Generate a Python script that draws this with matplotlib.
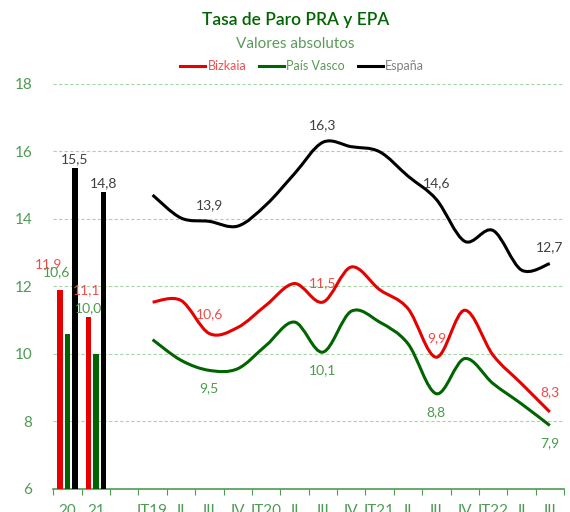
import numpy as np
import matplotlib
matplotlib.use("Agg")
from matplotlib import pyplot as plt
from matplotlib.path import Path
from matplotlib.patches import PathPatch
from matplotlib.lines import Line2D

plt.rcParams['font.family'] = ['Lato', 'DejaVu Sans']

# Categories on the x axis: two annual bars, a gap, then quarters
categories = ['20', '21', '', 'IT19', 'II', 'III', 'IV', 'IT20', 'II', 'III', 'IV',
              'IT21', 'II', 'III', 'IV', 'IT22', 'II', 'III']

# Annual averages (bars)
annual_bizkaia = [11.9, 11.1]
annual_pv = [10.6, 10.0]
annual_espana = [15.5, 14.8]

# Quarterly values (lines), IT19 .. III T22
q_bizkaia = [11.53, 11.58, 10.60, 10.78, 11.44, 12.08, 11.53, 12.57, 11.90, 11.34,
             9.90, 11.29, 9.96, 9.12, 8.28]
q_pv = [10.42, 9.81, 9.51, 9.56, 10.25, 10.94, 10.05, 11.26, 10.94, 10.30,
        8.82, 9.86, 9.12, 8.52, 7.88]
q_espana = [14.70, 14.02, 13.92, 13.78, 14.41, 15.33, 16.26, 16.13, 15.98, 15.26,
            14.57, 13.33, 13.65, 12.48, 12.67]

RED = '#e60000'
GREEN = '#006400'
BLACK = '#000000'
LBL_RED = '#ee4b4b'
LBL_GREEN = '#4a9a4a'
LBL_BLACK = '#404040'
AXIS_GREEN = '#4f9a55'


def smooth_path(xs, ys):
    # Excel-style smoothed line: cubic Bezier segments through every point
    pts = np.column_stack([xs, ys]).astype(float)
    verts = [pts[0]]
    codes = [Path.MOVETO]
    n = len(pts)
    for i in range(n - 1):
        p0 = pts[i - 1] if i > 0 else pts[i]
        p1 = pts[i]
        p2 = pts[i + 1]
        p3 = pts[i + 2] if i + 2 < n else pts[i + 1]
        c1 = p1 + (p2 - p0) / 6.0
        c2 = p2 - (p3 - p1) / 6.0
        verts += [c1, c2, p2]
        codes += [Path.CURVE4] * 3
    return Path(verts, codes)


fig = plt.figure(figsize=(5.7, 5.12), dpi=100)
ax = fig.add_axes([53.3 / 570, 23 / 512, (564 - 53.3) / 570, (489 - 83.5) / 512])

# bars
bw = 0.19
step = 0.26
xb = np.arange(len(annual_bizkaia))
ax.bar(xb - step, annual_bizkaia, bw, color=RED, zorder=3)
ax.bar(xb, annual_pv, bw, color=GREEN, zorder=3)
ax.bar(xb + step, annual_espana, bw, color=BLACK, zorder=3)

# bar labels (offsets in points)
bar_sets = [(xb - step, annual_bizkaia, LBL_RED, [(-8, 18), (-1, 19)]),
            (xb, annual_pv, LBL_GREEN, [(-8, 44), (-5, 33)]),
            (xb + step, annual_espana, LBL_BLACK, [(0, 6), (0, 6)])]
for xs, vals, col, offs in bar_sets:
    for x, v, (dx, dy) in zip(xs, vals, offs):
        ax.annotate(f'{v:.1f}'.replace('.', ','), (x, v), xytext=(dx, dy),
                    textcoords='offset points', ha='center', va='center',
                    color=col, fontsize=10, zorder=5)

# smoothed lines
xq = np.arange(3, 3 + len(q_espana))
for vals, col in [(q_espana, BLACK), (q_bizkaia, RED), (q_pv, GREEN)]:
    ax.add_patch(PathPatch(smooth_path(xq, vals), fill=False, edgecolor=col,
                           lw=2.2, capstyle='butt', zorder=4))

# labels on the III quarters
for i in [2, 6, 10, 14]:
    for vals, col, dy in [(q_espana, LBL_BLACK, 12), (q_bizkaia, LBL_RED, 14),
                          (q_pv, LBL_GREEN, -13)]:
        ax.annotate(f'{vals[i]:.1f}'.replace('.', ','), (xq[i], vals[i]),
                    xytext=(0, dy), textcoords='offset points', ha='center',
                    va='center', color=col, fontsize=10, zorder=5)

# axes styling
ax.set_xlim(-0.5, len(categories) - 0.5)
ax.set_ylim(6, 18)
ax.set_yticks(np.arange(6, 19, 2))
ax.set_xticks(np.arange(-0.5, len(categories), 1.0))
ax.set_xticklabels([])
ax.set_xticks(np.arange(len(categories)), minor=True)
ax.set_xticklabels(categories, minor=True)
ax.tick_params(axis='x', which='major', length=4, color=AXIS_GREEN, direction='out')
ax.tick_params(axis='x', which='minor', length=0, pad=11, labelsize=11, labelcolor=AXIS_GREEN)
ax.tick_params(axis='y', length=0, pad=15, labelsize=11, labelcolor=AXIS_GREEN)
for s in ['top', 'right', 'left']:
    ax.spines[s].set_visible(False)
ax.spines['bottom'].set_color(AXIS_GREEN)
ax.spines['bottom'].set_linewidth(1.2)
ax.set_axisbelow(True)
for y in np.arange(8, 19, 2):
    ax.axhline(y, color='#a8d4a8', lw=0.8, ls=(0, (3, 2)), zorder=1)

# titles
fig.text(0.518, 0.960, 'Tasa de Paro PRA y EPA', ha='center', va='center',
         fontsize=12.5, color=GREEN, fontweight='semibold')
fig.text(0.518, 0.914, 'Valores absolutos', ha='center', va='center',
         fontsize=11, color='#5a9a5a')

handles = [Line2D([], [], color=RED, lw=2.2), Line2D([], [], color=GREEN, lw=2.2),
           Line2D([], [], color=BLACK, lw=2.2)]
leg = fig.legend(handles, ['Bizkaia', 'País Vasco', 'España'], loc='center',
                 bbox_to_anchor=(0.53, 0.871), ncol=3, frameon=False, fontsize=9,
                 handlelength=2.0, handletextpad=0.2, columnspacing=1.0)
for t, c in zip(leg.get_texts(), ['#ec5050', '#5a9a5a', '#808080']):
    t.set_color(c)

fig.savefig('out.png', dpi=100)
